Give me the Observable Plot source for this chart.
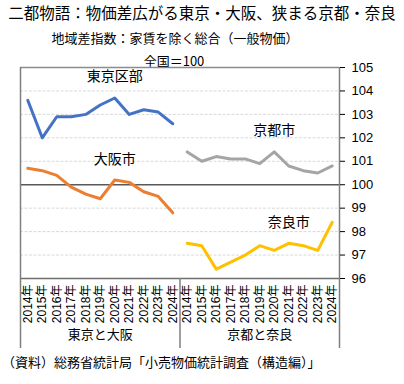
<!DOCTYPE html>
<html><head><meta charset="utf-8">
<script src="https://cdn.jsdelivr.net/npm/d3@7"></script>
<script src="https://cdn.jsdelivr.net/npm/@observablehq/plot@0.6"></script>
<style>
body{margin:0;width:404px;height:384px;position:relative;overflow:hidden;background:#fff;font-family:"Noto Sans CJK JP",sans-serif;color:#000}
.t{position:absolute;left:0;width:404px;text-align:center;white-space:nowrap;line-height:1}
#chart{position:absolute;left:0;top:50px}
</style></head><body>
<div class="t" style="top:5px;font-size:15.5px">二都物語：物価差広がる東京・大阪、狭まる京都・奈良</div>
<div class="t" style="top:31px;font-size:13px;left:-27px">地域差指数：家賃を除く総合（一般物価）</div>
<div class="t" style="top:54px;font-size:13px;left:-28px">全国＝100</div>
<div id="chart"></div>
<div class="t" style="top:355px;font-size:13px;text-align:left;left:2px">（資料）総務省統計局「小売物価統計調査（構造編）」</div>
<script>
const years = [2014, 2015, 2016, 2017, 2018, 2019, 2020, 2021, 2022, 2023, 2024];
const groups = ["東京と大阪", "京都と奈良"];
const seriesNames = ["東京区部", "大阪市", "京都市", "奈良市"];
const seriesGroup = [0, 0, 1, 1];
const tokyo = [103.6, 102.0, 102.9, 102.9, 103.0, 103.4, 103.7, 103.0, 103.2, 103.1, 102.6];
const osaka = [100.7, 100.6, 100.4, 99.9, 99.6, 99.4, 100.2, 100.1, 99.7, 99.5, 98.8];
const kyoto = [101.4, 101.0, 101.2, 101.1, 101.1, 100.9, 101.4, 100.8, 100.6, 100.5, 100.8];
const nara = [97.5, 97.4, 96.4, 96.7, 97.0, 97.4, 97.2, 97.5, 97.4, 97.2, 98.4];
const labelYear = [2020, 2020, 2020, 2021];
const colors = ["#4472C4", "#ED7D31", "#A5A5A5", "#FFC000"];
const yTicks = [96, 97, 98, 99, 100, 101, 102, 103, 104, 105];

const values = [tokyo, osaka, kyoto, nara];
const n = years.length;
const rows = [];
values.forEach((arr, s) => arr.forEach((v, j) => rows.push({series: seriesNames[s], i: seriesGroup[s] * n + j, value: v})));
const labels = seriesNames.map((name, s) => {
  const j = years.indexOf(labelYear[s]);
  return {series: name, i: seriesGroup[s] * n + j, value: values[s][j]};
});
const groupRows = groups.map((g, k) => ({g, i: k * n + (n - 1) / 2}));
const edges = [-0.5, groups.length * n - 0.5];
const mids = d3.range(1, groups.length).map(k => k * n - 0.5);

const chart = Plot.plot({
  width: 404, height: 305,
  marginTop: 17, marginBottom: 77, marginLeft: 20, marginRight: 65,
  style: {fontFamily: "'Liberation Sans', 'Noto Sans CJK JP', sans-serif", background: "transparent"},
  x: {domain: [-0.5, groups.length * n - 0.5]},
  y: {domain: [96, 105]},
  color: {domain: seriesNames, range: colors},
  marks: [
    Plot.gridY(yTicks.filter(d => d !== 100 && d !== 96 && d !== 105), {stroke: "#d9d9d9", strokeOpacity: 1, strokeDasharray: "3,1.5"}),
    Plot.ruleY([105], {stroke: "#8c8c8c", strokeWidth: 1.5}),
    Plot.ruleY([96], {stroke: "#6f6f6f", strokeWidth: 1.5}),
    Plot.ruleY([100], {stroke: "#595959", strokeWidth: 1.5}),
    Plot.ruleX(edges, {stroke: "#7f7f7f", strokeWidth: 1.5, insetBottom: -70}),
    Plot.ruleX(mids, {y1: 96, y2: 96, stroke: "#7f7f7f", strokeWidth: 1.5, insetBottom: -70}),
    Plot.line(rows, {x: "i", y: "value", z: "series", stroke: "series", strokeWidth: 3}),
    Plot.text(labels, {x: "i", y: "value", text: "series", dy: -21, fontSize: 14, fontFamily: "'Noto Sans CJK JP'", fill: "#000"}),
    Plot.text(groupRows, {x: "i", text: "g", frameAnchor: "bottom", dy: 60, fontSize: 13, fontFamily: "'Noto Sans CJK JP'", fill: "#000"}),
    Plot.axisY(yTicks, {anchor: "right", tickSize: 5, tickPadding: 7, fontSize: 13, label: null}),
    Plot.axisX(d3.range(groups.length * n), {tickFormat: i => years[i % n] + "年", tickRotate: -90, tickSize: 0, tickPadding: 6, fontSize: 12, label: null})
  ]
});
document.getElementById("chart").appendChild(chart);
</script>
</body></html>
